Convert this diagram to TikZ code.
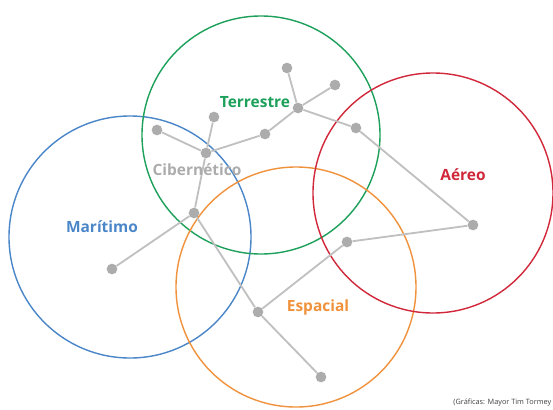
\documentclass[tikz,border=0pt]{standalone}
\usepackage{fontspec}
\setmainfont{Open Sans}
\usetikzlibrary{positioning}

\definecolor{tergreen}{RGB}{28,160,90}
\definecolor{marblue}{RGB}{74,134,200}
\definecolor{esporange}{RGB}{240,146,60}
\definecolor{aerred}{RGB}{208,40,58}
\definecolor{dotgray}{RGB}{172,172,172}
\definecolor{linegray}{RGB}{192,192,192}

\tikzset{
  domain/.style={draw=#1, line width=1pt},
  dot/.style={circle, fill=dotgray, inner sep=0pt, minimum size=7.6pt},
  link/.style={draw=linegray, line width=1.3pt},
  lbl/.style={font=\fontsize{11}{13}\selectfont\bfseries, text=#1}
}

\begin{document}
\begin{tikzpicture}[x=0.025cm, y=-0.025cm]
	\useasboundingbox (0,0) rectangle (553,409);

	% Domains
	\draw[domain=marblue] (130,237) circle (121);
	\draw[domain=tergreen] (261,135) circle (119);
	\draw[domain=esporange] (296,287) circle (120);
	\draw[domain=aerred] (433,193) circle (120);

	% Network
	\node[dot] (terA) at (287,68) {};
	\node[dot] (terB) at (335,85) {};
	\node[dot] (ter) at (298,108) {};
	\node[dot] (terC) at (265,134) {};
	\node[dot] (terD) at (356,128) {};
	\node[dot] (cibA) at (214,117) {};
	\node[dot] (cibB) at (157,130) {};
	\node[dot] (cib) at (206,153) {};
	\node[dot] (mid) at (194,213) {};
	\node[dot] (mar) at (112,269) {};
	\node[dot] (esp) at (258,312) {};
	\node[dot] (espA) at (321,377) {};
	\node[dot] (espB) at (347,242) {};
	\node[dot] (aer) at (473,225) {};

	\foreach \a/\b in {terA/ter, terB/ter, ter/terC, ter/terD, terD/aer,
		terC/cib, cibA/cib, cibB/cib, cib/mid, mid/mar, mid/esp,
		esp/espA, esp/espB, espB/aer}
		\draw[link] (\a) -- (\b);

	% Labels
	\node[lbl=tergreen] (terlbl) at (255,102) {Terrestre};
	\node[lbl=dotgray] (ciblbl) at (197,170) {Cibernético};
	\node[lbl=marblue] (marlbl) at (102,227) {Marítimo};
	\node[lbl=esporange] (esplbl) at (318,307) {Espacial};
	\node[lbl=aerred] (aerlbl) at (463,175) {Aéreo};
	\node[anchor=east, inner sep=1pt, font=\fontsize{5.2}{6}\selectfont, text=black!75] (credit) at (553,403) {(Gráficas: Mayor Tim Tormey};
\end{tikzpicture}
\end{document}
